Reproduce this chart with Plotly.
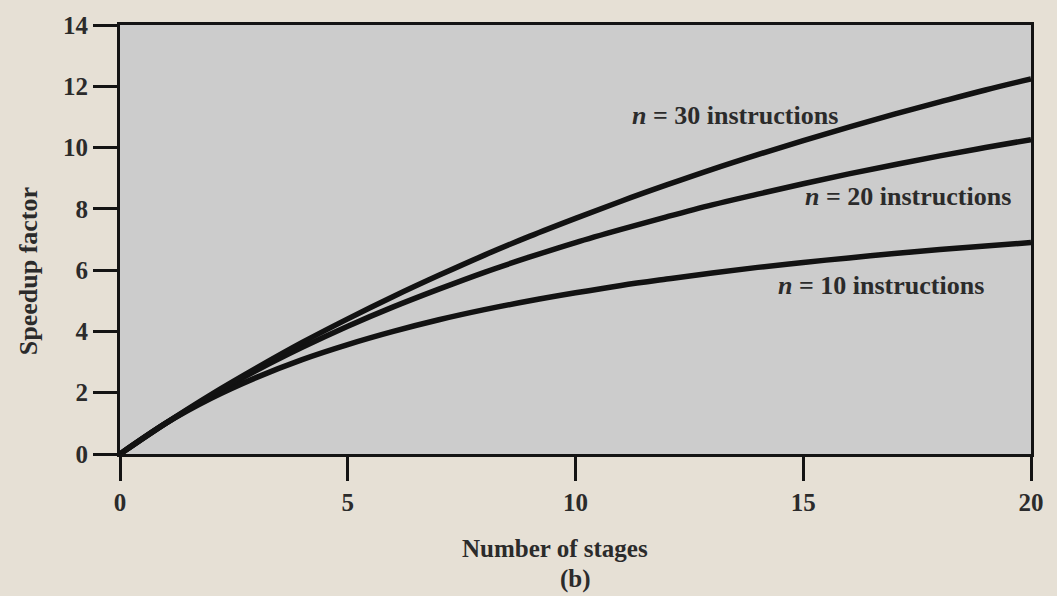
import plotly.graph_objects as go

stages = list(range(0, 21))
speedup_n10 = [0, 1.0, 1.82, 2.5, 3.08, 3.57, 4.0, 4.38, 4.71, 5.0, 5.26, 5.5, 5.71, 5.91, 6.09, 6.25, 6.4, 6.54, 6.67, 6.79, 6.9]
speedup_n20 = [0, 1.0, 1.9, 2.73, 3.48, 4.17, 4.8, 5.38, 5.93, 6.43, 6.9, 7.33, 7.74, 8.13, 8.48, 8.82, 9.14, 9.44, 9.73, 10.0, 10.26]
speedup_n30 = [0, 1.0, 1.94, 2.81, 3.64, 4.41, 5.14, 5.83, 6.49, 7.11, 7.69, 8.25, 8.78, 9.29, 9.77, 10.23, 10.67, 11.09, 11.49, 11.88, 12.24]
series_labels = ["<i>n</i> = 10 instructions", "<i>n</i> = 20 instructions", "<i>n</i> = 30 instructions"]
x_ticks = [0, 5, 10, 15, 20]
y_ticks = [0, 2, 4, 6, 8, 10, 12, 14]

FONT = "Liberation Serif"
TXT = "#2b2b2b"
BG = "#E6E0D5"
fig = go.Figure()
for ys in (speedup_n10, speedup_n20, speedup_n30):
    fig.add_trace(go.Scatter(x=stages, y=ys, mode="lines", line=dict(color="#121212", width=5.5, shape="spline"),
                             showlegend=False, hoverinfo="skip"))

label_pos = [(16.7, 5.51), (17.3, 8.39), (13.5, 11.05)]
for txt, (lx, ly) in zip(series_labels, label_pos):
    fig.add_annotation(x=lx, y=ly, text=f"<b>{txt}</b>", showarrow=False,
                       font=dict(family=FONT, size=26, color=TXT))

# axis titles and caption
fig.add_annotation(x=0.4775, y=-0.22, xref="paper", yref="paper", yanchor="middle", text="<b>Number of stages</b>",
                   showarrow=False, font=dict(family=FONT, size=25, color=TXT))
fig.add_annotation(x=0.5, y=-0.292, xref="paper", yref="paper", yanchor="middle", text="<b>(b)</b>", showarrow=False,
                   font=dict(family=FONT, size=25, color=TXT))
fig.add_annotation(x=-0.101, y=0.426, xref="paper", yref="paper", xanchor="center", yanchor="middle",
                   text="<b>Speedup factor</b>", textangle=-90, showarrow=False,
                   font=dict(family=FONT, size=26, color=TXT))

axis_common = dict(showgrid=False, zeroline=False, showline=True, linecolor="#141414", linewidth=3,
                   ticks="outside", ticklen=24, tickwidth=3, tickcolor="#141414", mirror=True,
                   tickfont=dict(family=FONT, size=25, color=TXT))
fig.update_xaxes(range=[0, 20], tickvals=x_ticks, ticktext=[f"<b>{v}</b>" for v in x_ticks], **axis_common)
fig.update_yaxes(range=[0, 14], tickvals=y_ticks, ticktext=[f"<b>{v}</b>" for v in y_ticks], **axis_common)
fig.update_layout(width=1057, height=596, margin=dict(l=120, r=26, t=22, b=142),
                  paper_bgcolor=BG, plot_bgcolor="#CCCCCC")
fig.write_html("out.html", config={"displayModeBar": False},
               post_script=f"document.body.style.margin='0';document.body.style.background='{BG}';")
